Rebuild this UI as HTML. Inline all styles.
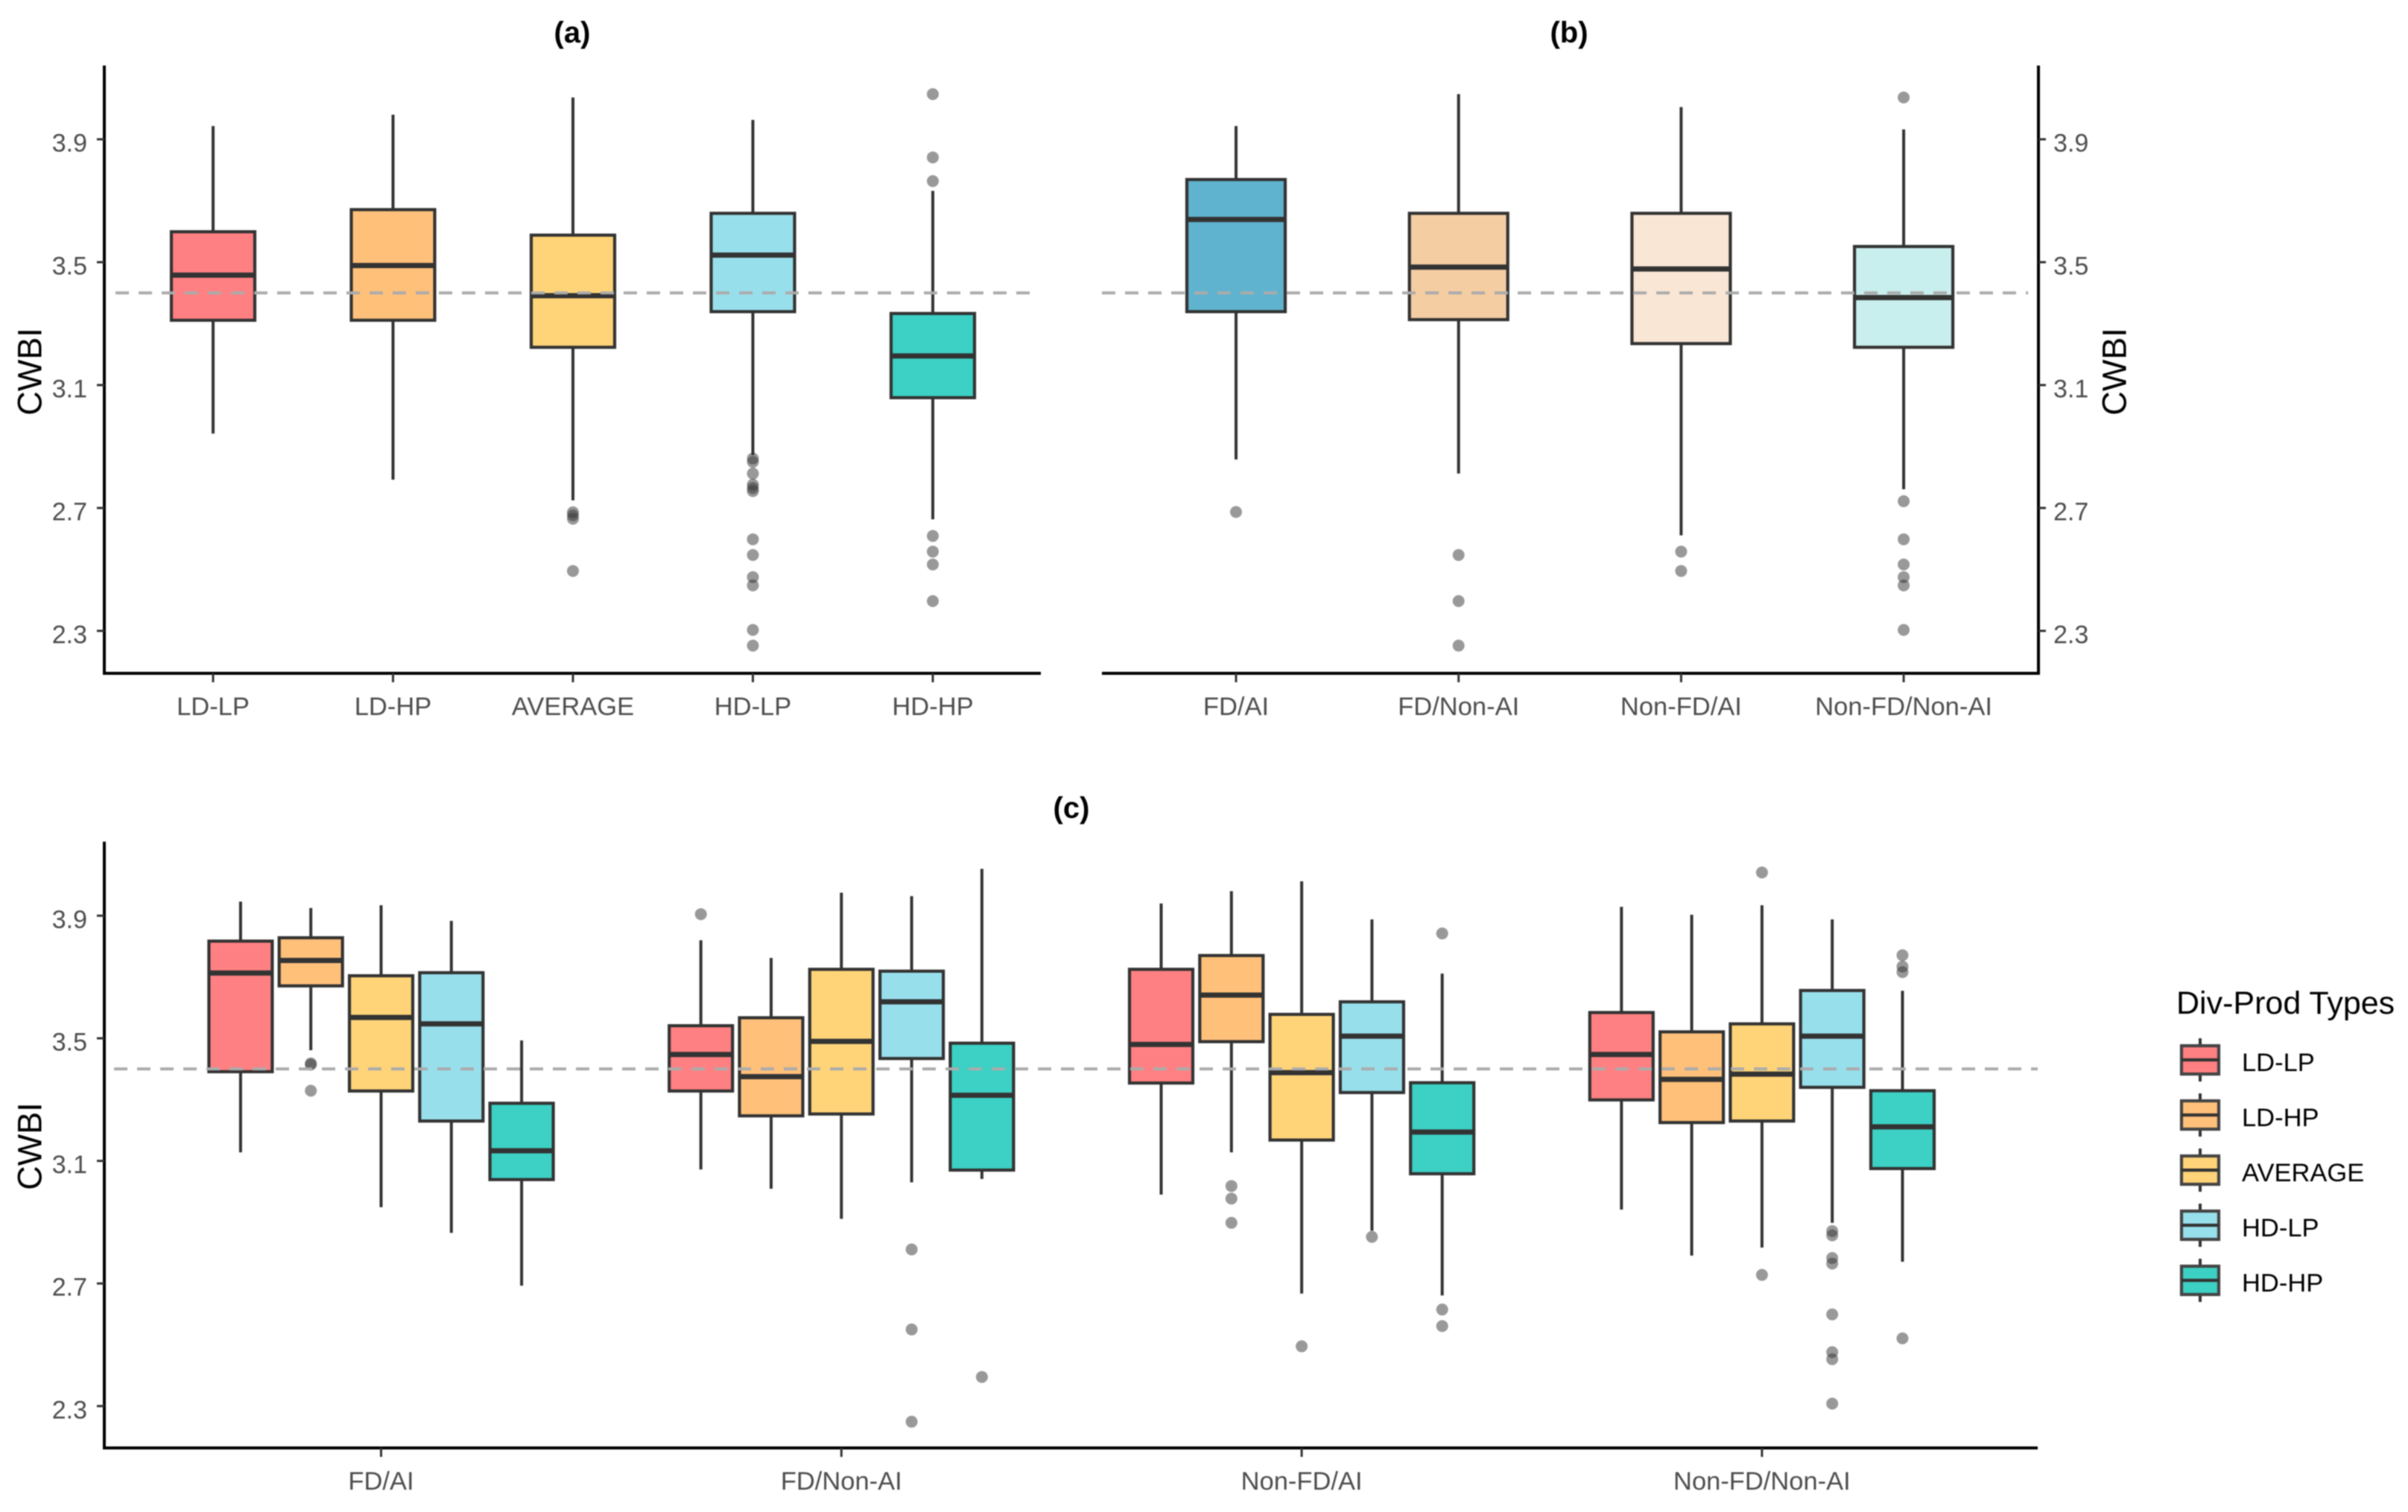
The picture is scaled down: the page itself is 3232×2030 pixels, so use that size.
<!DOCTYPE html>
<html lang="en">
<head>
<meta charset="utf-8">
<title>CWBI box plots by Div-Prod type</title>
<style>
html,body{margin:0;padding:0;background:#fff;}
body{width:3232px;height:2030px;overflow:hidden;}
svg{display:block;font-family:"Liberation Sans",Arial,sans-serif;filter:blur(0.7px);}
</style>
</head>
<body>
<svg id="chart" xmlns="http://www.w3.org/2000/svg" width="3232" height="2030" viewBox="0 0 3232 2030">
<rect x="0" y="0" width="3232" height="2030" fill="#ffffff"/>
</svg>
<script>
// ---------- shared data ----------
const yTickLabels = ["2.3", "2.7", "3.1", "3.5", "3.9"];
const referenceValue = 3.4;
const legendTypes = ["LD-LP", "LD-HP", "AVERAGE", "HD-LP", "HD-HP"];

// ---------- panel (a) ----------
const panelACategories = ["LD-LP", "LD-HP", "AVERAGE", "HD-LP", "HD-HP"];
const panelAWhiskerHigh = [3.943, 3.98, 4.036, 3.963, 3.732];
const panelAQ3 = [3.599, 3.671, 3.588, 3.659, 3.333];
const panelAMedian = [3.458, 3.489, 3.391, 3.523, 3.195];
const panelAQ1 = [3.311, 3.311, 3.223, 3.339, 3.059];
const panelAWhiskerLow = [2.942, 2.792, 2.725, 2.872, 2.663];
const panelAOutliers = [
  [],
  [],
  [2.686, 2.676, 2.665, 2.495],
  [2.861, 2.85, 2.812, 2.776, 2.765, 2.755, 2.598, 2.547, 2.475, 2.448, 2.303, 2.252],
  [4.047, 3.841, 3.764, 2.609, 2.558, 2.516, 2.397]
];

// ---------- panel (b) ----------
const panelBCategories = ["FD/AI", "FD/Non-AI", "Non-FD/AI", "Non-FD/Non-AI"];
const panelBWhiskerHigh = [3.943, 4.047, 4.005, 3.932];
const panelBQ3 = [3.769, 3.659, 3.659, 3.551];
const panelBMedian = [3.639, 3.484, 3.478, 3.385];
const panelBQ1 = [3.339, 3.313, 3.235, 3.223];
const panelBWhiskerLow = [2.858, 2.812, 2.611, 2.761];
const panelBOutliers = [
  [2.687],
  [2.547, 2.397, 2.252],
  [2.558, 2.495],
  [4.036, 2.722, 2.598, 2.516, 2.475, 2.448, 2.303]
];

// ---------- panel (c): rows = facets, columns = Div-Prod types ----------
const panelCCategories = ["FD/AI", "FD/Non-AI", "Non-FD/AI", "Non-FD/Non-AI"];
const panelCWhiskerHigh = [
  [3.946, 3.925, 3.934, 3.883, 3.493],
  [3.82, 3.762, 3.975, 3.964, 4.053],
  [3.94, 3.98, 4.012, 3.888, 3.711],
  [3.929, 3.903, 3.934, 3.888, 3.655]
];
const panelCQ3 = [
  [3.817, 3.828, 3.704, 3.714, 3.288],
  [3.541, 3.567, 3.725, 3.719, 3.484],
  [3.725, 3.77, 3.578, 3.619, 3.355],
  [3.584, 3.521, 3.547, 3.656, 3.329]
];
const panelCMedian = [
  [3.713, 3.754, 3.568, 3.547, 3.133],
  [3.447, 3.375, 3.49, 3.619, 3.314],
  [3.48, 3.641, 3.388, 3.507, 3.194],
  [3.447, 3.366, 3.383, 3.507, 3.211]
];
const panelCQ1 = [
  [3.391, 3.671, 3.328, 3.23, 3.039],
  [3.328, 3.247, 3.253, 3.434, 3.07],
  [3.354, 3.489, 3.168, 3.323, 3.058],
  [3.299, 3.225, 3.23, 3.34, 3.075]
];
const panelCWhiskerLow = [
  [3.128, 3.461, 2.949, 2.865, 2.693],
  [3.072, 3.009, 2.911, 3.03, 3.041],
  [2.99, 3.128, 2.667, 2.872, 2.661],
  [2.941, 2.791, 2.817, 2.898, 2.771]
];
const panelCOutliers = [
  [[], [3.418, 3.414, 3.329], [], [], []],
  [[3.905], [], [], [2.811, 2.55, 2.249], [2.395]],
  [[], [3.018, 2.977, 2.898], [2.495], [2.852], [3.842, 2.615, 2.561]],
  [[], [], [4.041, 2.728], [2.871, 2.857, 2.783, 2.765, 2.599, 2.476, 2.453, 2.308], [3.771, 3.734, 3.716, 2.521]]
];

// ---------- styles ----------
const typeFills = ["#FF8082", "#FFC07A", "#FFD478", "#98DFEC", "#3DD0C4"];
const panelBFills = ["#5FB3CE", "#F4CDA2", "#FAE6D5", "#C8EEED"];
const INK = "#333333";
const svg = document.getElementById("chart");
const NS = "http://www.w3.org/2000/svg";

function make(tag, props, parent) {
  const node = document.createElementNS(NS, tag);
  for (const key in props) node.setAttribute(key, props[key]);
  (parent || svg).appendChild(node);
  return node;
}

// ---------- axis functions ----------
function yTopPanels(v) { return 187 + (3.9 - v) * 412.5; }
function yBottomPanel(v) { return 1229.4 + (3.9 - v) * 411.5; }
function xPanelA(i) { return 286 + 241.5 * i; }
function xPanelB(i) { return 1659 + 298.7 * i; }
function xPanelCFacet(f) { return 511.5 + 617.8 * f; }
function xPanelC(f, t) { return xPanelCFacet(f) + 94.3 * (t - 2); }

function line(x1, y1, x2, y2, stroke, width, parent) {
  return make("line", {x1: x1, y1: y1, x2: x2, y2: y2, stroke: stroke, "stroke-width": width}, parent);
}

function label(text, x, y, size, fill, anchor, weight, parent) {
  const t = make("text", {x: x, y: y, "font-size": size, fill: fill, "text-anchor": anchor || "middle", "font-weight": weight || "normal"}, parent);
  t.textContent = text;
  return t;
}

function drawBox(group, x, width, yScale, wHigh, q3, median, q1, wLow, outliers, fill) {
  const upper = line(x, yScale(wHigh), x, yScale(q3), INK, 4, group);
  
  
  const lower = line(x, yScale(q1), x, yScale(wLow), INK, 4, group);
  
  
  outliers.forEach(function (v) {
    const dot = make("circle", {cx: x, cy: yScale(v), r: 8, fill: INK, "fill-opacity": 0.5}, group);
    
    
  });
  const rect = make("rect", {x: x - width / 2, y: yScale(q3), width: width, height: yScale(q1) - yScale(q3), fill: fill, stroke: INK, "stroke-width": 4.2}, group);
  
  
  const med = line(x - width / 2, yScale(median), x + width / 2, yScale(median), INK, 7, group);
  
  
}

function drawYTicks(yScale, axisX, side, prefix) {
  yTickLabels.forEach(function (txt) {
    const v = parseFloat(txt);
    const y = yScale(v);
    const tick = line(axisX, y, axisX + side * 10, y, INK, 3, svg);
    
    
    const lab = label(txt, axisX + (side < 0 ? -23 : 20), y + 16.5, 34, "#4d4d4d", side < 0 ? "end" : "start");
    
    
  });
}

function drawXTick(x, axisY, txt, prefix) {
  const tick = line(x, axisY, x, axisY + 12, INK, 3, svg);
  
  
  const lab = label(txt, x, axisY + 56, 34.5, "#4d4d4d");
  
  
}

function drawAxisTitle(x, y) {
  const t = make("text", {x: x, y: y, "font-size": 45, fill: "#000", "text-anchor": "middle", transform: "rotate(-90 " + x + " " + y + ")", "dominant-baseline": "central"});
  t.textContent = "CWBI";
  return t;
}

function drawRefLine(x1, x2, y, prefix) {
  const l = make("line", {x1: x1, y1: y, x2: x2, y2: y, stroke: "#ababab", "stroke-width": 4, "stroke-dasharray": "18 13"});
  
  
}

// ---------- panel (a) ----------
const groupA = make("g", {});


panelACategories.forEach(function (c, i) {
  drawBox(groupA, xPanelA(i), 112, yTopPanels, panelAWhiskerHigh[i], panelAQ3[i], panelAMedian[i], panelAQ1[i], panelAWhiskerLow[i], panelAOutliers[i], typeFills[i]);
});
drawRefLine(155, 1384, yTopPanels(referenceValue), "panel-a");
const aAxisY = line(140, 88, 140, 905.8, "#000", 4);


const aAxisX = line(138, 904, 1397, 904, "#000", 4);


drawYTicks(yTopPanels, 140, -1, "panel-a");
panelACategories.forEach(function (c, i) { drawXTick(xPanelA(i), 904, c, "panel-a"); });
const aTitle = label("(a)", 768, 57, 40, "#000", "middle", "bold");


const aYTitle = drawAxisTitle(40, 499);



// ---------- panel (b) ----------
const groupB = make("g", {});


panelBCategories.forEach(function (c, i) {
  drawBox(groupB, xPanelB(i), 132, yTopPanels, panelBWhiskerHigh[i], panelBQ3[i], panelBMedian[i], panelBQ1[i], panelBWhiskerLow[i], panelBOutliers[i], panelBFills[i]);
});
drawRefLine(1479, 2722, yTopPanels(referenceValue), "panel-b");
const bAxisY = line(2736, 88, 2736, 905.8, "#000", 4);


const bAxisX = line(1479, 904, 2738, 904, "#000", 4);


drawYTicks(yTopPanels, 2736, 1, "panel-b");
panelBCategories.forEach(function (c, i) { drawXTick(xPanelB(i), 904, c, "panel-b"); });
const bTitle = label("(b)", 2106, 57, 40, "#000", "middle", "bold");


const bYTitle = drawAxisTitle(2838, 499);



// ---------- panel (c) ----------
const groupC = make("g", {});


panelCCategories.forEach(function (c, f) {
  legendTypes.forEach(function (type, t) {
    drawBox(groupC, xPanelC(f, t), 85, yBottomPanel, panelCWhiskerHigh[f][t], panelCQ3[f][t], panelCMedian[f][t], panelCQ1[f][t], panelCWhiskerLow[f][t], panelCOutliers[f][t], typeFills[t]);
  });
});
drawRefLine(153, 2735, yBottomPanel(referenceValue), "panel-c");
const cAxisY = line(140, 1130, 140, 1945.8, "#000", 4);


const cAxisX = line(138, 1944, 2735, 1944, "#000", 4);


drawYTicks(yBottomPanel, 140, -1, "panel-c");
panelCCategories.forEach(function (c, f) { drawXTick(xPanelCFacet(f), 1944, c, "panel-c"); });
const cTitle = label("(c)", 1438, 1098, 40, "#000", "middle", "bold");


const cYTitle = drawAxisTitle(40, 1539);



// ---------- legend ----------
const legend = make("g", {});


const legendTitle = label("Div-Prod Types", 2921, 1361, 43, "#000", "start", "normal", legend);


legendTypes.forEach(function (type, i) {
  const cy = 1423 + 74 * i;
  const entry = make("g", {}, legend);
  
  
  line(2953, cy - 29, 2953, cy + 29, INK, 4, entry);
  make("rect", {x: 2928, y: cy - 19, width: 50, height: 38, fill: typeFills[i], stroke: "#444444", "stroke-width": 4.2}, entry);
  line(2928, cy, 2978, cy, INK, 4.2, entry);
  label(type, 3009, cy + 15, 34.5, "#000", "start", "normal", entry);
});
</script>
</body>
</html>
